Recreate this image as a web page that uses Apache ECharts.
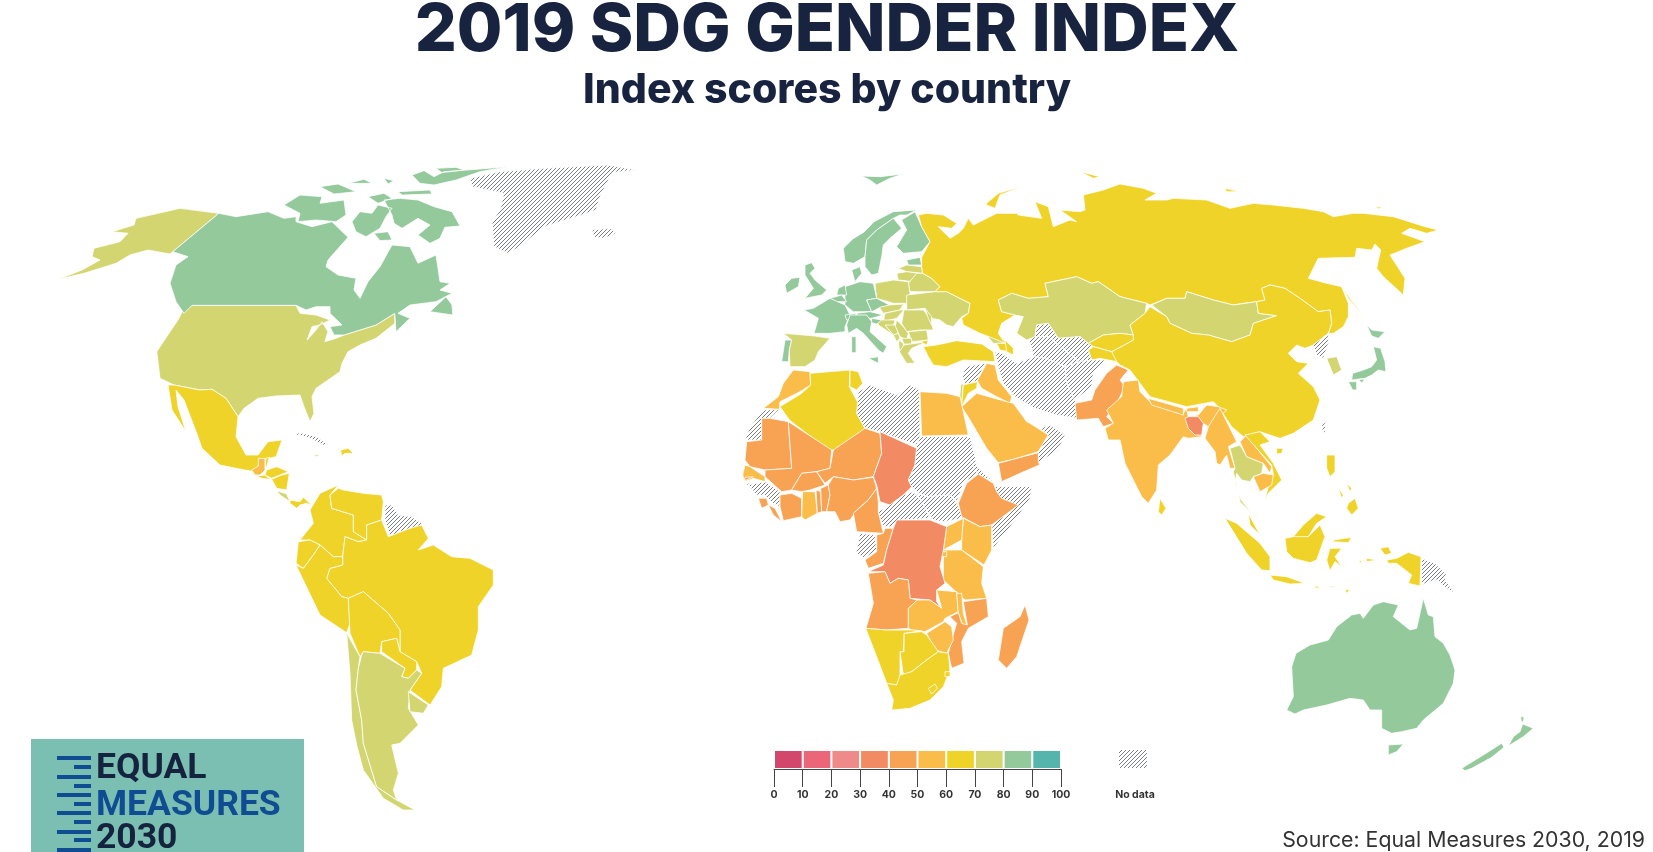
<!DOCTYPE html>
<html>
<head>
<meta charset="utf-8">
<title>2019 SDG Gender Index</title>
<style>html,body{margin:0;padding:0;background:#fff}#chart{width:1653px;height:852px}</style>
<script src="https://cdn.jsdelivr.net/npm/echarts@6/dist/echarts.min.js"></script>
</head>
<body>
<div id="chart"></div>
<script>
const greenCountries = ['Canada','Norway','Sweden','Finland','Denmark','United Kingdom','Ireland','Germany','Netherlands','Belgium','France','Switzerland','Austria','Czechia','Slovenia','Italy','Portugal','Estonia','Japan','Australia','New Zealand'];
const greenScores = [85,88,88,89,89,84,85,86,87,83,83,84,83,81,86,81,81,81,81,85,83];
const paleCountries = ['United States','Chile','Argentina','Uruguay','Costa Rica','Jamaica','Spain','Latvia','Lithuania','Belarus','Poland','Slovakia','Hungary','Ukraine','Romania','Moldova','Bulgaria','Serbia','Croatia','Bosnia','Montenegro','Albania','North Macedonia','Greece','Georgia','Kazakhstan','Mongolia','Thailand','South Korea','Israel'];
const paleScores = [79,76,77,79,77,71,79,78,77,76,77,76,75,73,72,72,74,76,76,71,72,71,72,74,72,71,72,71,79,78];
const yellowCountries = ['Mexico','Belize','Honduras','El Salvador','Nicaragua','Panama','Dominican Republic','Colombia','Venezuela','Ecuador','Peru','Bolivia','Paraguay','Brazil','Algeria','Tunisia','Turkey','Jordan','Armenia','Azerbaijan','Russia','China','Kyrgyzstan','Tajikistan','Vietnam','Malaysia','Indonesia','Philippines','Sri Lanka','Namibia','Botswana','South Africa','Lesotho','Eswatini'];
const yellowScores = [65,62,60,62,62,66,61,65,62,66,65,63,64,66,65,65,60,60,67,63,65,67,66,61,66,66,64,66,63,62,62,65,60,61];
const amberCountries = ['Guatemala','Morocco','Egypt','Iraq','Saudi Arabia','India','Nepal','Bhutan','Myanmar','Laos','Cambodia','Senegal','Ghana','Uganda','Kenya','Tanzania','Zambia','Zimbabwe','Malawi','Rwanda'];
const amberScores = [58,59,52,52,53,56,55,54,51,52,53,52,53,53,57,55,50,55,52,59];
const orangeCountries = ['Pakistan','Yemen','Mauritania','Mali','Gambia','Sierra Leone','Liberia','Ivory Coast','Burkina Faso','Togo','Benin','Niger','Nigeria','Cameroon','Ethiopia','Congo','Angola','Mozambique','Madagascar'];
const orangeScores = [45,41,45,45,48,43,44,44,44,46,45,40,47,42,44,43,44,46,46];
const coralCountries = ['Chad','DR Congo','Bangladesh'];
const coralScores = [33,38,39];
// hatched on the map, no index score
const noDataCountries = ['Greenland','Iceland','Cuba','Haiti','Guianas','Western Sahara','Libya','Sudan','South Sudan','Central African Republic','Eritrea','Somalia','Guinea','Guinea-Bissau','Gabon','Syria','Iran','Afghanistan','Uzbekistan','Turkmenistan','Oman','North Korea','Taiwan','Papua New Guinea'];

const binEdges = [0,10,20,30,40,50,60,70,80,90,100];
const binColors = ['#D2476B','#EB6679','#EF8A8A','#F28A63','#F8A253','#FBBD4A','#EFD328','#D3D670','#93C99B','#55B5AC'];

const sheet = (ox, oy, sx = 3, sy = 3) => s => s.trim().split(/\s+/).map(p => {
  const [a, b] = p.split(',').map(Number);
  return [ox + a / sx, oy + b / sy];
});
const na = sheet(40, 150, 2.5, 3), sa = sheet(150, 460), eu = sheet(730, 170), af = sheet(730, 370);
const as = sheet(960, 170), sea = sheet(1060, 380), oc = sheet(1280, 520), me = sheet(940, 320), ca = sheet(210, 420);

const shapes = {
  'United States': [na('380,466 640,466 650,490 690,495 725,510 700,525 680,530 668,570 690,540 705,515 720,545 712,575 740,565 760,555 840,525 887,490 887,520 840,565 800,585 770,605 755,640 750,665 690,715 680,740 685,790 675,815 660,770 650,735 590,738 545,745 510,775 495,800 465,745 430,718 400,720 335,705 300,685 292,605 325,545 345,510 358,480'),
    na('447,190 350,175 240,205 235,225 180,245 220,250 200,275 135,295 130,320 150,330 105,360 45,388 110,370 190,340 225,315 270,300 325,312 332,305')],
  'Canada': [na('447,190 490,200 570,185 610,205 640,200 640,215 680,230 730,215 770,262 720,330 715,350 745,375 790,385 785,420 800,445 820,395 850,350 880,285 925,290 945,340 990,315 1000,395 1025,400 1000,420 1030,430 990,455 925,465 895,490 925,505 890,545 887,490 840,525 760,555 735,555 725,530 755,525 725,490 725,470 690,470 665,480 640,466 380,466 360,490 340,455 325,400 340,345 370,320 332,305'),
    na('610,165 650,135 705,140 700,160 760,150 765,195 740,215 690,210 645,215 650,190'),
    na('780,215 800,185 830,190 845,165 880,175 865,200 850,235 815,260 790,245'),
    na('860,150 900,145 945,150 985,170 1030,185 1050,228 1012,232 1000,265 975,280 945,255 975,225 945,205 905,235 885,220 880,195'),
    na('835,250 870,245 880,270 850,272'),
    na('930,75 960,62 985,80 1010,65 1090,58 1170,50 1100,65 1040,90 985,105 950,100'),
    na('990,55 1040,52 1060,60 1005,68'), na('895,125 975,120 980,132 905,135'), na('700,110 745,102 790,125 735,132'),
    na('770,100 810,88 830,100'), na('860,85 885,92 870,102'), na('820,140 860,130 880,145 845,160'),
    na('975,485 1015,440 1030,465 1032,495')],
  'Greenland': [na('1075,85 1150,65 1260,55 1420,45 1490,60 1430,68 1400,140 1390,180 1340,200 1260,230 1200,290 1170,310 1135,290 1130,215 1150,180 1160,130 1080,110')],
  'Iceland': [na('1380,240 1425,235 1440,250 1410,265 1385,262')],
  'Mexico': [na('320,705 335,705 400,720 430,718 465,745 495,800 490,860 515,915 545,915 570,875 605,870 590,920 555,930 535,965 490,955 450,945 405,895 395,860 360,750 340,720 345,770 365,845 330,780')],
  'Guatemala': [ca('125,150 145,138 145,115 165,115 165,140 165,150 150,165 135,165')],
  'Belize': [ca('168,115 178,112 170,140 165,140')],
  'Honduras': [ca('170,150 200,140 235,155 210,165 185,175 165,165')],
  'El Salvador': [ca('140,168 165,165 180,178 155,175')],
  'Nicaragua': [ca('185,178 215,165 238,160 230,210 200,205')],
  'Costa Rica': [ca('200,212 230,222 240,245 210,225')],
  'Panama': [ca('240,240 270,245 280,232 305,255 290,250 270,255 260,265 240,250')],
  'Cuba': [ca('245,45 270,38 320,50 355,75 340,75 300,55 265,45')],
  'Haiti': [ca('380,88 392,90 392,100')],
  'Dominican Republic': [ca('392,90 415,85 430,100 405,100 395,108')],
  'Jamaica': [ca('310,104 330,105 320,110')],
  'Colombia': [sa('480,150 510,100 565,75 540,105 545,145 610,165 610,215 650,240 625,245 585,230 578,290 550,290 510,255 480,240 450,240 490,190')],
  'Venezuela': [sa('565,85 580,90 640,100 695,105 700,125 695,180 650,195 650,240 610,215 610,165 545,145 540,105')],
  'Guianas': [sa('705,135 725,135 745,165 785,170 815,190 810,215 780,205 750,215 720,230 705,180')],
  'Brazil': [sa('695,180 715,230 780,205 815,195 835,235 805,270 850,255 905,290 960,295 1030,330 1030,375 985,440 985,510 965,585 880,625 875,680 840,735 780,690 815,640 800,605 750,575 750,510 715,460 640,395 595,415 575,410 530,355 540,325 578,315 578,290 585,230 625,245 650,240 650,195')],
  'Ecuador': [sa('438,310 445,245 480,240 510,255 490,285 460,325')],
  'Peru': [sa('438,315 460,325 490,285 510,255 550,290 578,290 578,315 540,325 530,355 575,410 595,415 600,490 590,518 510,465')],
  'Bolivia': [sa('595,415 640,395 715,460 750,510 750,575 740,535 695,545 690,580 640,575 630,590 600,520')],
  'Paraguay': [sa('695,545 740,535 750,575 800,605 800,630 775,655 755,650 765,625 695,575')],
  'Chile': [sa('590,520 630,590 625,625 618,690 635,780 640,850 680,980 740,1020 795,1050 760,1050 700,1015 640,930 620,855 605,780 600,640')],
  'Argentina': [sa('635,585 640,575 690,580 765,625 755,650 775,655 800,630 815,640 780,690 775,745 805,795 750,850 725,855 745,940 730,990 740,1020 680,980 640,850 635,780 618,690 625,625')],
  'Uruguay': [sa('775,695 835,735 820,760 780,755')],
  'Norway': [eu('340,235 368,207 402,186 432,155 490,125 560,120 530,135 510,135 490,145 440,180 410,210 405,260 370,280 345,275'), eu('395,18 450,20 520,12 480,25 440,45 420,30')],
  'Sweden': [eu('405,260 410,210 440,180 490,145 515,175 480,205 460,225 455,260 445,310 425,315 405,290')],
  'Finland': [eu('515,150 555,125 575,170 600,215 575,245 520,250 500,230 530,180')],
  'Denmark': [eu('365,300 390,290 395,310 375,335')],
  'United Kingdom': [eu('225,285 245,278 255,295 240,310 255,330 290,360 275,375 225,385 250,355 225,315')],
  'Ireland': [eu('165,345 185,325 210,322 205,350 170,370')],
  'Estonia': [eu('530,270 570,262 575,285 535,285')],
  'Latvia': [eu('505,295 530,285 575,290 578,310 530,305')],
  'Lithuania': [eu('500,310 530,305 565,310 550,335 505,330')],
  'Belarus': [eu('560,310 578,310 605,325 630,350 615,365 540,365 535,340')],
  'Poland': [eu('435,340 490,330 535,335 540,370 530,400 490,400 440,385')],
  'Germany': [eu('345,350 390,335 430,340 440,385 410,390 425,425 370,425 345,405')],
  'Netherlands': [eu('325,355 345,345 350,375 320,375')],
  'Belgium': [eu('300,385 335,375 350,395 320,395')],
  'France': [eu('222,420 250,415 300,385 345,405 360,435 345,470 345,485 300,490 252,490 265,445')],
  'Switzerland': [eu('345,435 375,430 385,445 350,450')],
  'Austria': [eu('380,430 420,425 460,435 425,445 385,445')],
  'Czechia': [eu('410,390 440,385 478,405 445,415 425,425')],
  'Slovakia': [eu('448,412 478,405 520,402 510,420 460,430')],
  'Hungary': [eu('465,430 510,420 522,420 500,445 460,455')],
  'Italy': [eu('350,465 360,435 410,435 425,455 420,485 470,530 460,550 445,540 400,490 380,475 355,490'), eu('365,500 378,500 378,548 365,548'), eu('415,565 445,560 445,580')],
  'Ukraine': [eu('530,375 615,365 650,365 720,400 715,430 695,440 670,470 650,465 630,450 605,445 585,415 530,420')],
  'Romania': [eu('522,420 580,420 600,445 610,480 570,480 530,485 515,460')],
  'Moldova': [eu('585,415 605,440 605,465 595,445')],
  'Bulgaria': [eu('535,485 590,480 595,510 545,515')],
  'Serbia': [eu('500,450 520,470 535,490 530,510 510,500 495,470')],
  'Croatia': [eu('440,450 495,450 490,470 470,470 490,495 445,465')],
  'Bosnia': [eu('465,465 495,465 505,490 490,495')],
  'Slovenia': [eu('425,445 455,450 440,462 425,458')],
  'Montenegro': [eu('490,495 505,490 510,505 500,515')],
  'Albania': [eu('505,510 520,520 520,545 508,540')],
  'North Macedonia': [eu('515,505 545,505 545,522 522,522')],
  'Greece': [eu('508,545 522,525 590,515 545,535 535,550 555,580 530,580')],
  'Portugal': [eu('165,510 185,510 178,540 175,575 155,575')],
  'Spain': [eu('160,490 255,498 300,505 265,545 255,570 225,590 180,590 178,540 185,510')],
  'Turkey': [eu('580,530 620,525 680,512 755,522 790,545 795,575 700,570 650,590 610,585 595,560'), eu('570,515 595,510 590,525')],
  'Georgia': [eu('765,490 815,505 835,520 790,520')],
  'Armenia': [eu('800,520 830,520 835,545 810,540')],
  'Azerbaijan': [eu('825,510 850,535 850,555 830,545')],
  'Russia': [[
    ...eu('565,135 590,130 640,135 680,160 665,175 625,170 660,205 685,190 700,175 715,145 730,165 760,150 800,130 860,130'),
    ...as('175,135 245,145 225,95 265,110 280,170 330,150 350,155 300,120 360,125 375,120 370,75 430,60 480,42 550,55 590,70 555,90 620,90 640,85 740,90 810,115 880,100 940,105 1030,115 1090,125 1120,140 1180,130 1210,130 1300,140 1395,170 1435,180 1400,190 1350,175 1325,190 1395,215 1340,235 1290,255 1335,325 1330,375 1270,320 1250,295 1262,240 1245,222 1235,240 1190,235 1185,262 1075,265 1045,325 1100,340 1145,350 1165,400 1165,440 1150,470 1120,490 1105,490 1115,460 1110,420 1075,425 1020,385 975,355 930,345 905,355 915,390 890,395 850,400 820,405 760,390 680,365 675,385 620,385 570,405 560,400 480,380 415,335 395,340 350,320 255,340 265,380 205,385 155,370 115,390 125,425 165,435 125,460 115,490 135,520 100,505 60,490'),
    ...eu('700,465 695,445 715,430 720,400 650,365 615,365 630,350 605,325 578,310 575,290 575,262 600,215 575,170')],
    as('80,100 115,70 190,48 120,75 105,115 80,105'), as('1145,350 1170,385 1215,445 1165,385'), as('360,5 420,20 400,25'), as('795,55 840,65 800,65'), as('1245,110 1270,112 1255,116')],
  'Kazakhstan': [as('115,390 155,370 205,385 265,380 255,340 350,320 395,340 415,335 480,380 560,400 555,430 510,465 520,495 480,490 430,495 385,520 360,500 295,505 265,460 230,465 225,500 200,510 170,490 190,440 165,435 125,425')],
  'Mongolia': [as('575,405 620,385 675,385 680,365 760,390 820,405 890,395 895,430 950,437 880,460 870,495 815,515 745,495 695,490 630,460 620,440')],
  'China': [as('570,410 620,440 630,460 695,490 745,495 815,515 870,495 880,460 950,437 895,430 890,395 915,390 905,355 930,345 975,355 1020,385 1075,425 1110,420 1115,460 1105,490 1060,525 1035,535 1010,525 985,550 1010,575 1045,580 1015,610 1060,650 1080,690 1060,750 1000,790 960,805 900,785 850,800 815,770 775,710 760,695 680,710 570,680 540,640 510,600 480,585 460,565 455,545 520,510 520,495 510,465 555,430'), sea('650,205 670,205 665,220 650,222')],
  'Kyrgyzstan': [as('385,520 430,495 480,490 520,495 520,510 455,545 400,530')],
  'Tajikistan': [as('385,540 400,530 455,545 470,575 420,565 395,570')],
  'Uzbekistan': [as('230,465 265,460 295,505 360,500 385,520 400,530 385,540 395,570 360,575 320,545 265,500 225,500')],
  'Turkmenistan': [as('205,510 225,500 265,500 320,545 360,575 315,590 260,565 220,560 215,530')],
  'Iran': [as('105,545 125,550 170,580 220,560 260,565 315,590 320,640 345,690 355,745 290,735 225,715 165,680 130,640 115,590')],
  'Afghanistan': [as('315,590 360,575 395,570 440,570 400,610 395,650 345,690 320,640')],
  'Pakistan': [as('345,700 395,690 405,660 440,610 470,585 505,600 480,630 495,650 470,700 440,740 460,760 430,770 415,745 350,750')],
  'North Korea': [as('1060,525 1105,490 1105,520 1090,565 1070,555')],
  'South Korea': [as('1100,565 1130,560 1145,600 1120,615')],
  'Japan': [as('1220,465 1235,480 1275,485 1255,505 1235,498'), as('1240,530 1262,535 1275,575 1278,605 1255,600 1235,615 1215,625 1175,630 1178,610 1210,600 1235,590 1250,570'), as('1165,635 1190,635 1190,660 1178,660'), as('1195,628 1215,628 1205,638')],
  'Syria': [me('68,170 75,140 135,130 112,182 75,195')],
  'Israel': [me('62,195 70,190 65,255 58,255')],
  'Jordan': [me('70,195 112,185 110,205 85,220 65,260')],
  'Iraq': [me('112,182 140,130 165,135 175,180 215,230 210,250 170,230 125,205')],
  'Saudi Arabia': [af('695,110 740,70 830,95 850,100 890,155 900,160 955,195 925,245 850,268 805,278 770,235 720,150')],
  'Yemen': [af('805,280 850,268 925,248 928,285 870,310 815,335')],
  'Oman': [af('925,245 955,195 930,175 960,165 1005,195 985,240 925,278')],
  'Egypt': [af('570,65 650,70 690,80 715,195 575,198')],
  'Morocco': [af('100,115 145,80 160,40 190,0 240,5 242,45 210,65 150,95 148,118')],
  'Western Sahara': [af('45,210 60,170 100,120 148,118 120,145 95,145 95,210')],
  'Algeria': [af('150,110 215,70 242,45 240,10 360,0 358,50 385,100 380,130 405,175 320,240 295,240 178,150')],
  'Tunisia': [af('360,0 385,5 398,40 380,60 360,50')],
  'Libya': [af('385,65 420,45 500,75 540,45 568,60 570,198 560,225 450,185 405,175 380,130')],
  'Mauritania': [af('95,145 120,145 175,155 185,295 105,300 60,290 45,270 50,215 95,210')],
  'Mali': [af('175,155 305,240 300,295 260,305 215,310 185,360 155,365 105,320 105,300 185,295')],
  'Senegal': [af('38,315 45,285 60,290 105,320 105,335 70,325 45,335')],
  'Gambia': [af('45,322 70,320 45,332')],
  'Guinea-Bissau': [af('45,340 70,340 60,350')],
  'Guinea': [af('55,345 105,335 150,365 150,410 130,400 105,375 80,375')],
  'Sierra Leone': [af('85,385 110,385 115,405 95,415')],
  'Liberia': [af('115,405 135,415 155,455 130,435')],
  'Ivory Coast': [af('150,375 185,370 215,385 215,440 160,452 150,410')],
  'Burkina Faso': [af('185,360 215,310 260,305 285,345 240,360 215,365')],
  'Ghana': [af('218,365 255,365 262,430 225,450 215,440')],
  'Togo': [af('258,360 272,365 275,425 262,430')],
  'Benin': [af('272,355 295,345 300,375 290,425 275,425')],
  'Niger': [af('260,305 300,295 310,240 405,175 450,190 455,250 430,320 370,330 310,320 285,340')],
  'Nigeria': [af('295,345 310,320 370,330 430,322 440,355 415,390 380,420 360,450 330,455 315,425 290,425 300,375')],
  'Chad': [af('450,185 560,235 555,285 535,330 545,350 520,375 480,405 450,395 440,345 430,320 455,250')],
  'Cameroon': [af('370,430 415,390 440,355 445,395 445,425 460,490 380,485')],
  'Central African Republic': [af('445,425 480,405 520,375 550,365 580,400 600,445 510,450 490,470 460,470')],
  'Sudan': [af('570,200 720,200 735,260 745,310 700,340 680,395 660,375 590,380 560,365 545,350 535,330 555,285 560,230')],
  'South Sudan': [af('560,370 590,380 660,375 680,400 700,445 640,455 610,450 590,420')],
  'Eritrea': [af('720,270 790,335 745,315')],
  'Somalia': [af('795,350 905,350 900,385 860,445 790,535 785,465 865,405 810,390')],
  'Ethiopia': [af('710,340 745,312 790,340 800,365 815,385 865,405 785,465 750,470 695,440 685,400')],
  'Kenya': [af('700,445 750,470 785,465 785,540 762,585 695,540 695,500')],
  'Uganda': [af('650,470 700,445 695,510 640,540')],
  'Tanzania': [af('640,540 695,540 760,590 755,640 770,685 705,690 640,630')],
  'Rwanda': [af('630,545 650,545 650,560 630,560')],
  'Gabon': [af('378,550 390,490 435,495 440,540 405,565')],
  'Congo': [af('465,475 490,475 470,540 460,580 415,595 405,570 440,545 440,495 460,490')],
  'DR Congo': [af('500,450 600,450 650,470 640,540 630,590 645,640 620,660 620,695 635,715 600,690 540,685 535,630 505,625 480,640 465,605 415,605 460,585 470,540 490,475')],
  'Angola': [af('415,610 465,605 480,640 505,625 535,630 540,685 562,690 535,715 535,775 470,780 408,775 430,700')],
  'Zambia': [af('535,715 562,690 600,690 635,715 620,660 680,665 685,725 645,745 640,755 585,785 545,780 535,775')],
  'Malawi': [af('680,670 695,670 700,730 712,770 700,770 685,730')],
  'Mozambique': [af('700,695 770,685 775,740 715,775 695,815 702,880 665,895 655,850 668,800 680,760 660,740 685,728 695,760 712,765')],
  'Zimbabwe': [af('590,790 645,755 665,770 670,810 650,850 615,840')],
  'Botswana': [af('522,790 575,785 590,795 625,845 590,870 545,905 520,915 510,845 522,845')],
  'Namibia': [af('407,775 470,780 545,780 575,782 522,790 520,845 510,845 510,940 500,945 470,940 440,860')],
  'South Africa': [af('470,940 500,945 510,915 545,905 590,870 625,845 655,850 660,900 640,950 600,990 540,1015 485,1020 490,990')],
  'Lesotho': [af('595,955 615,942 622,955 605,972')],
  'Eswatini': [af('645,905 660,905 660,920 645,920')],
  'Madagascar': [af('885,705 897,750 860,860 830,895 805,870 820,775 870,740')],
  'India': [sea('190,5 235,0 240,35 275,70 370,100 380,85 385,110 415,105 440,75 475,80 500,90 455,130 445,140 430,130 415,130 425,170 385,175 370,170 330,225 295,255 290,330 265,370 245,350 195,250 180,180 145,180 135,145 160,130 140,90 185,50')],
  'Nepal': [sea('265,55 370,85 370,105 275,75')],
  'Bhutan': [sea('380,85 415,80 415,95 380,95')],
  'Bangladesh': [sea('375,115 385,110 415,110 430,130 425,165 405,165 385,145')],
  'Myanmar': [sea('480,85 505,135 530,185 505,200 525,265 510,265 500,225 480,255 470,250 465,215 435,175 445,140 470,100')],
  'Thailand': [sea('510,205 540,195 560,230 610,250 605,280 580,290 570,305 545,300 530,280 525,310 540,355 575,400 540,365 520,275 525,265')],
  'Laos': [sea('540,185 560,165 590,205 635,260 630,280 610,250 560,230')],
  'Vietnam': [sea('555,165 600,155 630,185 600,195 640,250 665,300 625,340 615,360 625,320 640,285 635,255 590,205')],
  'Cambodia': [sea('580,290 610,280 640,285 635,315 600,335')],
  'Malaysia': [sea('565,400 600,465 570,435'), sea('700,470 730,435 770,400 800,410 770,430 745,470 690,480')],
  'Sri Lanka': [sea('300,355 318,385 305,405 295,395')],
  'Taiwan': [sea('785,135 798,125 795,160 787,155')],
  'Indonesia': [sea('495,415 530,430 600,490 630,530 630,572 605,570 560,520'), sea('630,585 680,590 735,610 690,612 640,600'),
    sea('675,475 700,470 745,470 780,435 795,470 770,540 750,548 700,535 680,515'), sea('800,540 810,505 845,505 825,530 845,560 825,545 810,572'),
    sea('820,480 875,472 865,488 820,485'), sea('760,618 780,620 770,625'), sea('805,618 835,620 815,622'), sea('855,630 870,628 860,640'),
    sea('895,545 905,540 905,548'), sea('920,535 950,540 920,545'), oc('300,85 325,80 335,100 315,105'), oc('320,120 350,115 385,97 423,110 420,198 385,190 395,165 350,130 325,130')],
  'Philippines': [sea('800,225 825,225 825,275 810,290 800,265'), sea('865,370 885,355 895,385 875,405 860,385'), sea('835,325 850,345 845,355'), sea('860,310 875,325 870,335')],
  'Papua New Guinea': [oc('425,115 465,130 500,165 495,180 525,220 500,205 470,180 450,185 425,195')],
  'Australia': [oc('20,570 40,530 35,440 48,400 90,375 145,360 170,320 215,285 240,280 250,295 280,255 310,245 355,255 340,290 390,330 410,325 430,235 445,285 460,290 465,350 490,370 510,405 525,450 520,490 490,550 430,600 410,625 365,635 335,640 305,625 305,570 270,570 250,540 210,535 140,555 70,570 45,582'), oc('325,675 370,672 350,695 325,705')],
  'New Zealand': [oc('545,745 610,705 665,670 672,682 635,712 575,745 555,752'), oc('685,678 700,650 720,635 728,612 760,625 730,650'), oc('722,590 732,590 730,606 724,605')]
};

const geoJson = {
  type: 'FeatureCollection',
  features: Object.keys(shapes).map(name => ({
    type: 'Feature',
    properties: { name },
    geometry: { type: 'MultiPolygon', coordinates: shapes[name].map(ring => [[...ring, ring[0]]]) }
  }))
};
echarts.registerMap('sdgWorld', geoJson);

function makeHatch() {
  const c = document.createElement('canvas');
  c.width = c.height = 4;
  const g = c.getContext('2d');
  g.strokeStyle = '#6b6e74';
  g.lineWidth = 0.9;
  g.beginPath();
  [[-1, 1, 1, -1], [0, 4, 4, 0], [3, 5, 5, 3]].forEach(l => { g.moveTo(l[0], l[1]); g.lineTo(l[2], l[3]); });
  g.stroke();
  return { image: c, repeat: 'repeat' };
}
const hatch = makeHatch();

function binColor(score) {
  return binColors[Math.min(Math.floor(score / 10), 9)];
}

const scored = [
  [greenCountries, greenScores], [paleCountries, paleScores], [yellowCountries, yellowScores],
  [amberCountries, amberScores], [orangeCountries, orangeScores], [coralCountries, coralScores]
];
const mapData = [];
scored.forEach(([names, scores]) => names.forEach((name, i) => {
  mapData.push({ name, value: scores[i], itemStyle: { areaColor: binColor(scores[i]) } });
}));
noDataCountries.forEach(name => mapData.push({ name, value: null, itemStyle: { areaColor: hatch } }));

const legendSeries = binColors.map((color, i) => ({
  type: 'bar', stack: 'scale', barWidth: '100%', silent: true,
  data: [binEdges[i + 1] - binEdges[i]],
  itemStyle: { color, borderColor: '#fff', borderWidth: 1 }
}));

// logo: ruler ticks next to the wordmark
const logoTicks = [758, 767, 777, 786, 795, 804, 813, 822, 832, 840, 850];
const logo = [{ type: 'rect', shape: { x: 31, y: 739, width: 273, height: 113 }, style: { fill: '#7ABFB2' } }];
logoTicks.forEach((y, i) => logo.push({
  type: 'rect',
  shape: { x: i % 2 ? 74 : 57, y: y - 2, width: i % 2 ? 17 : 34, height: 4 },
  style: { fill: '#0F4C92' }
}));
[['EQUAL', 769, '#15233F'], ['MEASURES', 806, '#0F4C92'], ['2030', 839, '#15233F']].forEach(t => logo.push({
  type: 'text', x: 96, y: t[1],
  style: { text: t[0], fill: t[2], font: 'bold 35.5px Roboto, sans-serif', textVerticalAlign: 'middle' }
}));

const chart = echarts.init(document.getElementById('chart'));
chart.setOption({
  backgroundColor: '#fff',
  animation: false,
  title: [
    { text: '2019 SDG GENDER INDEX', left: 827, top: 31, padding: 0, textAlign: 'center', textVerticalAlign: 'middle',
      textStyle: { fontFamily: 'Inter', fontWeight: 800, fontSize: 66, color: '#17233F' } },
    { text: 'Index scores by country', left: 827, top: 91, padding: 0, textAlign: 'center', textVerticalAlign: 'middle',
      textStyle: { fontFamily: 'Inter', fontWeight: 800, fontSize: 41, color: '#17233F' } }
  ],
  grid: { left: 774, top: 750, width: 287, height: 19 },
  xAxis: {
    type: 'value', min: 0, max: 100, interval: 10,
    splitLine: { show: false },
    axisLine: { show: true, lineStyle: { color: '#444', width: 1 } },
    axisTick: { show: true, length: 18, lineStyle: { color: '#444', width: 1 } },
    axisLabel: { margin: 20, fontFamily: 'Inter', fontWeight: 700, fontSize: 10.5, color: '#333', showMinLabel: true, showMaxLabel: true }
  },
  yAxis: { type: 'category', data: ['scale'], show: false },
  series: [
    {
      type: 'map', map: 'sdgWorld', roam: false, silent: true,
      projection: { project: p => p, unproject: p => p },
      boundingCoords: [[0, 0], [1653, 852]],
      left: 0, top: 0, width: 1653, height: 852,
      label: { show: false },
      itemStyle: { areaColor: '#fff', borderColor: '#fff', borderWidth: 0.8 },
      emphasis: { disabled: true },
      data: mapData
    },
    ...legendSeries
  ],
  graphic: [
    ...logo,
    { type: 'rect', shape: { x: 1119, y: 750, width: 28, height: 18 }, style: { fill: hatch } },
    { type: 'text', x: 1135, y: 795, style: { text: 'No data', fill: '#333', font: 'bold 10.5px Inter', textAlign: 'center', textVerticalAlign: 'middle' } },
    { type: 'text', x: 1645, y: 841, style: { text: 'Source: Equal Measures 2030, 2019', fill: '#333', font: '21.3px Inter', textAlign: 'right', textVerticalAlign: 'middle' } }
  ]
});
</script>
</body>
</html>
